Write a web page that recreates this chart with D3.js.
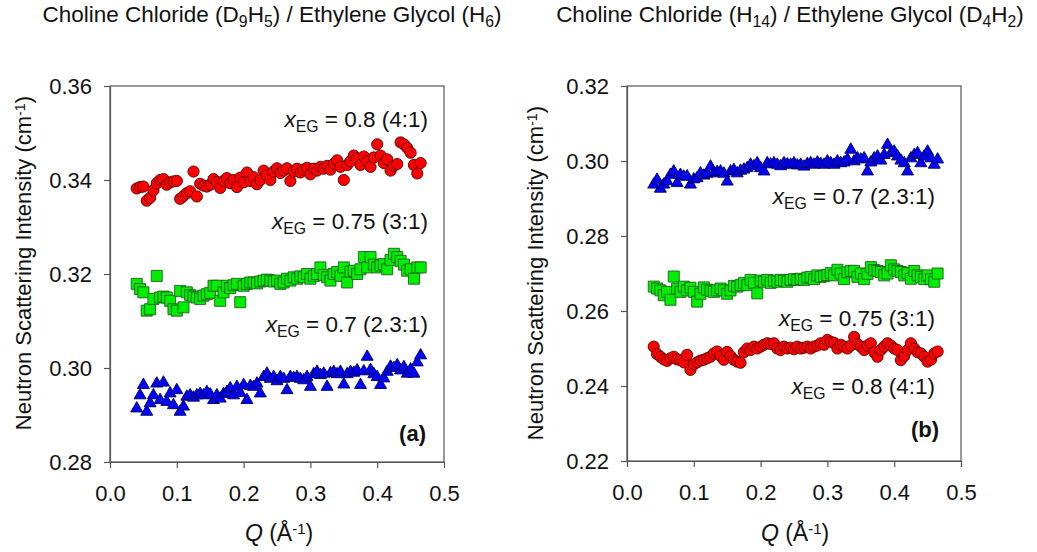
<!DOCTYPE html>
<html><head><meta charset="utf-8">
<script src="https://cdn.jsdelivr.net/npm/d3@7"></script>
<style>
html,body{margin:0;padding:0;background:#fff;}
svg{display:block;font-family:"Liberation Sans",Arial,sans-serif;}
</style></head>
<body><svg id="c" width="1037" height="552"></svg>
<script>
const Q = [0.040,0.045,0.050,0.055,0.060,0.065,0.070,0.075,0.080,0.085,0.090,0.095,0.100,0.105,0.110,0.115,0.120,0.125,0.130,0.135,0.140,0.145,0.150,0.155,0.160,0.165,0.170,0.175,0.180,0.185,0.190,0.195,0.200,0.205,0.210,0.215,0.220,0.225,0.230,0.235,0.240,0.245,0.250,0.255,0.260,0.265,0.270,0.275,0.280,0.285,0.290,0.295,0.300,0.305,0.310,0.315,0.320,0.325,0.330,0.335,0.340,0.345,0.350,0.355,0.360,0.365,0.370,0.375,0.380,0.385,0.390,0.395,0.400,0.405,0.410,0.415,0.420,0.425,0.430,0.435,0.440,0.445,0.450,0.455,0.460,0.465];

// Panel (a): CC(D9H5)/EG(H6)
const a_x08 = [0.3382,0.3385,0.3386,0.3356,0.3362,0.3378,0.3393,0.3400,0.3402,0.3390,0.3395,0.3397,0.3398,0.3360,0.3366,0.3372,0.3376,0.3418,0.3365,0.3392,0.3388,0.3386,0.3390,0.3402,0.3396,0.3383,0.3398,0.3404,0.3393,0.3400,0.3385,0.3405,0.3395,0.3416,0.3398,0.3406,0.3391,0.3400,0.3420,0.3410,0.3400,0.3418,0.3425,0.3415,0.3420,0.3425,0.3398,0.3418,0.3424,0.3416,0.3422,0.3426,0.3412,0.3424,0.3420,0.3428,0.3424,0.3430,0.3422,0.3434,0.3442,0.3428,0.3400,0.3432,0.3440,0.3452,0.3446,0.3432,0.3450,0.3440,0.3428,0.3448,0.3476,0.3452,0.3436,0.3444,0.3420,0.3430,0.3434,0.3480,0.3476,0.3468,0.3458,0.3432,0.3414,0.3436];
const a_x075 = [0.3179,0.3168,0.3161,0.3122,0.3125,0.3147,0.3196,0.3150,0.3152,0.3150,0.3143,0.3125,0.3122,0.3164,0.3129,0.3161,0.3155,0.3152,0.3150,0.3147,0.3154,0.3157,0.3160,0.3175,0.3175,0.3143,0.3161,0.3175,0.3170,0.3176,0.3179,0.3140,0.3175,0.3179,0.3182,0.3182,0.3180,0.3184,0.3186,0.3188,0.3186,0.3184,0.3186,0.3179,0.3182,0.3190,0.3186,0.3193,0.3190,0.3195,0.3193,0.3200,0.3190,0.3196,0.3200,0.3214,0.3198,0.3193,0.3186,0.3200,0.3204,0.3196,0.3214,0.3182,0.3205,0.3207,0.3200,0.3210,0.3236,0.3214,0.3236,0.3220,0.3214,0.3218,0.3221,0.3210,0.3230,0.3243,0.3236,0.3228,0.3220,0.3207,0.3210,0.3190,0.3214,0.3214];
const a_x07 = [0.2917,0.2945,0.2967,0.2910,0.2928,0.2945,0.2970,0.2935,0.2972,0.2931,0.2949,0.2924,0.2956,0.2910,0.2921,0.2942,0.2945,0.2940,0.2945,0.2948,0.2945,0.2952,0.2947,0.2935,0.2945,0.2938,0.2948,0.2952,0.2960,0.2945,0.2963,0.2950,0.2967,0.2935,0.2965,0.2963,0.2970,0.2949,0.2984,0.2991,0.2980,0.2984,0.2975,0.2984,0.2980,0.2956,0.2984,0.2982,0.2984,0.2980,0.2977,0.2984,0.2963,0.2990,0.2995,0.2988,0.2991,0.2963,0.2992,0.2995,0.2990,0.2995,0.2968,0.2990,0.2995,0.2993,0.2998,0.2967,0.2996,0.3027,0.2999,0.2990,0.2984,0.2967,0.2981,0.2995,0.3006,0.3003,0.3009,0.2998,0.3005,0.2991,0.3000,0.2991,0.3015,0.3030];

// Panel (b): CC(H14)/EG(D4H2)
const b_x07 = [0.2941,0.2954,0.2930,0.2941,0.2950,0.2967,0.2976,0.2945,0.2967,0.2962,0.2963,0.2941,0.2955,0.2958,0.2971,0.2965,0.2970,0.2989,0.2971,0.2975,0.2976,0.2970,0.2949,0.2976,0.2980,0.2971,0.2978,0.2981,0.2985,0.2994,0.2990,0.2998,0.2985,0.2976,0.2998,0.2995,0.2998,0.2994,0.2990,0.2998,0.2995,0.2994,0.2998,0.2992,0.2994,0.2989,0.2996,0.2998,0.2994,0.3000,0.2996,0.2994,0.3003,0.2998,0.2994,0.3003,0.2998,0.3000,0.3008,0.3034,0.3003,0.3011,0.3008,0.3011,0.2976,0.3000,0.3011,0.3016,0.3005,0.3020,0.3047,0.3025,0.3029,0.3016,0.3005,0.2998,0.2976,0.3011,0.3020,0.3025,0.2998,0.3016,0.3029,0.3011,0.2994,0.3008];
const b_x075 = [0.2665,0.2660,0.2655,0.2642,0.2651,0.2630,0.2692,0.2660,0.2651,0.2665,0.2655,0.2662,0.2651,0.2625,0.2646,0.2663,0.2657,0.2654,0.2651,0.2655,0.2660,0.2655,0.2646,0.2655,0.2667,0.2665,0.2669,0.2675,0.2669,0.2683,0.2675,0.2647,0.2681,0.2678,0.2683,0.2675,0.2681,0.2678,0.2683,0.2681,0.2678,0.2683,0.2685,0.2683,0.2686,0.2683,0.2689,0.2691,0.2685,0.2695,0.2691,0.2693,0.2696,0.2701,0.2695,0.2710,0.2700,0.2685,0.2703,0.2707,0.2707,0.2691,0.2700,0.2685,0.2699,0.2717,0.2709,0.2707,0.2704,0.2695,0.2700,0.2722,0.2711,0.2707,0.2704,0.2695,0.2701,0.2686,0.2707,0.2695,0.2691,0.2685,0.2695,0.2685,0.2678,0.2700];
const b_x08 = [0.2505,0.2485,0.2478,0.2471,0.2467,0.2474,0.2478,0.2471,0.2469,0.2463,0.2483,0.2443,0.2458,0.2463,0.2468,0.2470,0.2474,0.2478,0.2487,0.2492,0.2480,0.2470,0.2491,0.2480,0.2470,0.2465,0.2462,0.2490,0.2500,0.2496,0.2505,0.2500,0.2505,0.2510,0.2514,0.2512,0.2514,0.2500,0.2496,0.2505,0.2500,0.2502,0.2498,0.2505,0.2500,0.2502,0.2505,0.2500,0.2505,0.2508,0.2514,0.2510,0.2523,0.2518,0.2515,0.2500,0.2510,0.2505,0.2500,0.2508,0.2531,0.2512,0.2505,0.2496,0.2508,0.2514,0.2490,0.2478,0.2496,0.2505,0.2514,0.2508,0.2500,0.2496,0.2469,0.2480,0.2496,0.2514,0.2500,0.2490,0.2487,0.2478,0.2465,0.2470,0.2487,0.2492];

const xTicks = [0.0,0.1,0.2,0.3,0.4,0.5];
const aYTicks = [0.28,0.30,0.32,0.34,0.36];
const bYTicks = [0.22,0.24,0.26,0.28,0.30,0.32];

const svg = d3.select("#c");
const FONT = 22;

function richText(g, x, y, parts, opts) {
  const t = g.append("text").attr("x", x).attr("y", y)
    .attr("font-size", opts.size).attr("fill", "#111")
    .attr("text-anchor", opts.anchor || "start");
  if (opts.transform) t.attr("transform", opts.transform);
  if (opts.bold) t.attr("font-weight", "bold");
  parts.forEach(p => {
    const s = t.append("tspan").text(p.t);
    if (p.i) s.attr("font-style", "italic");
    if (p.sub) s.attr("font-size", opts.size * 0.7).attr("baseline-shift", "-30%");
    if (p.sup) s.attr("font-size", opts.size * 0.65).attr("baseline-shift", "45%");
  });
  return t;
}

const markers = {
  circle: d3.symbol().type(d3.symbolCircle).size(Math.PI * 5.6 * 5.6),
  square: d3.symbol().type(d3.symbolSquare).size(11 * 11),
  triangle: d3.symbol().type(d3.symbolTriangle).size(62)
};

function panel(cfg) {
  const {x0, x1, y0, y1, ydom, yticks, series, labels, tag, title, titleX, ylabelX, ylabelY, xlabelX} = cfg;
  const g = svg.append("g");
  const x = d3.scaleLinear().domain([0, 0.5]).range([x0, x1]);
  const y = d3.scaleLinear().domain(ydom).range([y1, y0]);

  g.append("rect").attr("x", x0).attr("y", y0).attr("width", x1 - x0).attr("height", y1 - y0)
    .attr("fill", "none").attr("stroke", "#555").attr("stroke-width", 1.2);

  const xa = g.append("g").attr("transform", `translate(0,${y1})`)
    .call(d3.axisBottom(x).tickValues(xTicks).tickFormat(d3.format(".1f")).tickSizeInner(6).tickSizeOuter(0).tickPadding(17));
  const ya = g.append("g").attr("transform", `translate(${x0},0)`)
    .call(d3.axisLeft(y).tickValues(yticks).tickFormat(d3.format(".2f")).tickSizeInner(6).tickSizeOuter(0).tickPadding(12));
  [xa, ya].forEach(a => {
    a.select(".domain").attr("stroke", "#555").attr("stroke-width", 1.2);
    a.selectAll(".tick line").attr("stroke", "#555").attr("stroke-width", 1.2);
    a.selectAll(".tick text").attr("font-size", FONT).attr("fill", "#111")
      .attr("font-family", "'Liberation Sans',Arial,sans-serif");
  });

  series.forEach(s => {
    g.append("g").selectAll("path").data(Q.map((q, i) => [q, s.vals[i]])).join("path")
      .attr("d", markers[s.shape])
      .attr("transform", d => `translate(${x(d[0])},${y(d[1]) + (s.shape === "triangle" ? 1.5 : 0)})`)
      .attr("fill", s.fill).attr("stroke", s.stroke).attr("stroke-width", 0.9);
  });

  labels.forEach(l => {
    richText(g, l.x, l.y, [{t: "x", i: true}, {t: "EG", sub: true}, {t: " = " + l.txt}], {size: 22.5, anchor: "end"});
  });
  richText(g, tag.x, tag.y, [{t: tag.t}], {size: 22, anchor: "end", bold: true});

  richText(g, titleX, 22, title, {size: 22.5, anchor: "middle"});
  richText(g, 0, 0, [{t: "Neutron Scattering Intensity (cm"}, {t: "-1", sup: true}, {t: ")"}],
    {size: FONT, anchor: "middle", transform: `translate(${ylabelX},${ylabelY}) rotate(-90)`});
  richText(g, xlabelX, 541, [{t: "Q", i: true}, {t: " (Å"}, {t: "-1", sup: true}, {t: ")"}], {size: 23, anchor: "middle"});
}

panel({
  x0: 110, x1: 444, y0: 86, y1: 462, ydom: [0.28, 0.36], yticks: aYTicks,
  series: [
    {vals: a_x08, shape: "circle", fill: "#ff0000", stroke: "#5a0000"},
    {vals: a_x075, shape: "square", fill: "#00ee00", stroke: "#1f5f1f"},
    {vals: a_x07, shape: "triangle", fill: "#0000ff", stroke: "#00005a"}
  ],
  labels: [
    {x: 428, y: 127, txt: "0.8 (4:1)"},
    {x: 428, y: 229, txt: "0.75 (3:1)"},
    {x: 428, y: 332, txt: "0.7 (2.3:1)"}
  ],
  tag: {x: 426, y: 441, t: "(a)"},
  title: [{t: "Choline Chloride (D"}, {t: "9", sub: true}, {t: "H"}, {t: "5", sub: true}, {t: ") / Ethylene Glycol (H"}, {t: "6", sub: true}, {t: ")"}],
  titleX: 272, ylabelX: 31, ylabelY: 263, xlabelX: 279
});

panel({
  x0: 627, x1: 961, y0: 86, y1: 461, ydom: [0.22, 0.32], yticks: bYTicks,
  series: [
    {vals: b_x07, shape: "triangle", fill: "#0000ff", stroke: "#00005a"},
    {vals: b_x075, shape: "square", fill: "#00ee00", stroke: "#1f5f1f"},
    {vals: b_x08, shape: "circle", fill: "#ff0000", stroke: "#5a0000"}
  ],
  labels: [
    {x: 935, y: 204, txt: "0.7 (2.3:1)"},
    {x: 935, y: 326, txt: "0.75 (3:1)"},
    {x: 935, y: 394, txt: "0.8 (4:1)"}
  ],
  tag: {x: 939, y: 437, t: "(b)"},
  title: [{t: "Choline Chloride (H"}, {t: "14", sub: true}, {t: ") / Ethylene Glycol (D"}, {t: "4", sub: true}, {t: "H"}, {t: "2", sub: true}, {t: ")"}],
  titleX: 790, ylabelX: 543, ylabelY: 273, xlabelX: 795
});
</script></body></html>
